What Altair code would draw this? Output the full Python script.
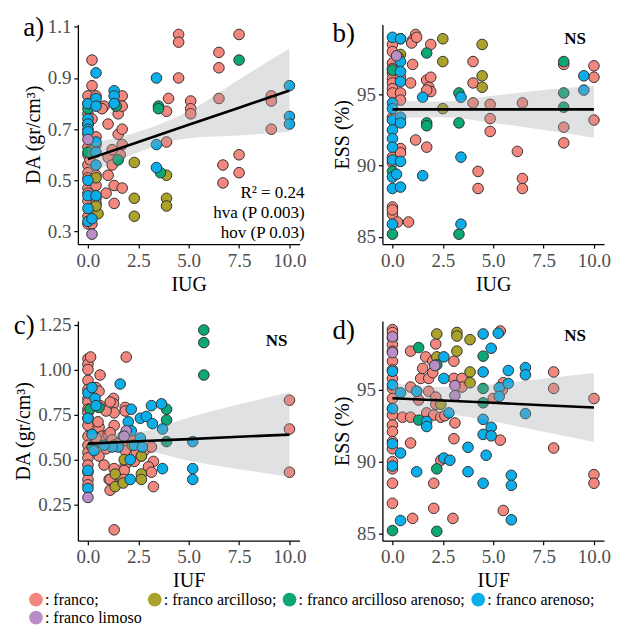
import altair as alt
import pandas as pd

FONT = "Liberation Serif"
SOILS = ["franco", "franco arcilloso", "franco arcilloso arenoso", "franco arenoso", "franco limoso"]
COLORS = ["#F3877D", "#ABA22B", "#0DA677", "#0BAEE8", "#B98DC6"]

# ---------- panel a: IUG vs DA ----------
a_franco = [(0,0.83),(0,0.80),(0,0.76),(0,0.72),(0,0.68),(0,0.63),(0,0.60),(0,0.56),(0,0.53),(0,0.51),
            (0,0.47),(0,0.45),(0,0.42),(0,0.36),(0,0.33),(0.2,0.97),(0.2,0.87),(0.4,0.83),(0.2,0.74),
            (0.4,0.67),(0.4,0.64),(0.4,0.52),(0.4,0.48),(0.4,0.43),(0.4,0.41),(0.2,0.33),(0.2,0.62),
            (0.1,0.58),(0.8,0.79),(0.7,0.78),(0.9,0.45),(1.0,0.72),(1.0,0.59),(1.0,0.52),(1.2,0.56),
            (1.3,0.48),(1.3,0.41),(1.5,0.76),(1.5,0.68),(1.7,0.83),(1.7,0.79),(1.7,0.70),(1.7,0.64),
            (1.6,0.60),(1.7,0.47),(1.2,0.62),(4.5,1.07),(4.5,1.04),(4.5,0.90),(4.0,0.82),(3.9,0.77),
            (3.9,0.65),(5.1,0.81),(5.1,0.78),(5.1,0.76),(6.5,1.00),(6.5,0.94),(6.5,0.82),(6.7,0.56),
            (6.7,0.49),(7.5,1.07),(7.5,0.60),(7.5,0.53),(9.1,0.83),(9.1,0.81),(9.1,0.70)]
a_arcilloso = [(0.4,0.51),(0.5,0.37),(0.4,0.40),(2.3,0.57),(2.3,0.43),(2.3,0.36),(3.9,0.52),
               (3.9,0.43),(3.9,0.40),(0.3,0.62)]
a_arc_arenoso = [(0,0.78),(0,0.72),(0,0.61),(1.4,0.79),(1.5,0.58),(3.5,0.79),(3.5,0.78),(3.6,0.53),(7.5,0.97)]
a_arenoso = [(0,0.80),(0,0.74),(0,0.72),(0,0.70),(0,0.69),(0,0.50),(0,0.44),(0,0.39),(0,0.34),
             (0.4,0.92),(0.4,0.82),(0.4,0.79),(0.4,0.65),(0.4,0.61),(0.4,0.56),(0.4,0.44),(0.2,0.35),
             (1.3,0.85),(1.3,0.83),(1.3,0.80),(3.4,0.90),(3.4,0.64),(3.4,0.55),(10,0.87),(10,0.75),(10,0.72)]
a_limoso = [(0.2,0.29),(0,0.66)]

# ---------- panel b: IUG vs ESS ----------
b_franco = [(0,98.5),(0,98.0),(0,97.2),(0,96.8),(0,96.5),(0,96.1),(0,95.8),(0,95.4),(0,95.1),(0,93.4),
            (0,90.6),(0,90.2),(0,87.1),(0,86.6),(0,86.9),(0.25,86.05),(0.4,96.2),(0.4,95.1),(0.4,94.6),
            (0.4,91.2),(0.4,90.9),(1.0,97.1),(0.9,95.8),(1.15,99.2),(1.0,98.8),(0.95,98.6),(1.2,99.0),
            (1.9,98.5),(1.15,91.8),(0.8,86.05),(1.7,96.0),(1.9,96.2),(1.8,95.5),(1.9,95.2),(1.7,95.3),
            (1.7,91.3),(4.0,97.3),(4.0,95.8),(4.0,94.4),(4.25,89.6),(4.25,88.4),(4.85,94.3),(4.85,93.3),
            (4.85,92.4),(6.2,91.0),(6.45,94.4),(6.45,89.1),(6.45,88.4),(8.5,97.1),(8.5,92.7),(8.5,91.6),
            (10,97.0),(10,96.2),(10,93.2)]
b_arcilloso = [(0.4,98.9),(0.4,97.8),(0.3,97.6),(2.5,98.9),(2.5,97.3),(2.5,94.0),(4.45,98.5),(4.45,96.3),(4.45,95.5)]
b_arc_arenoso = [(0,96.7),(0,89.6),(0,85.2),(1.7,97.9),(1.7,93.0),(1.7,92.8),(3.3,95.1),(3.3,93.0),
                 (3.3,85.2),(8.5,97.3),(8.5,95.1),(8.5,94.1)]
b_arenoso = [(0,99.0),(0,94.4),(0,94.0),(0,93.2),(0,92.5),(0,91.9),(0,91.3),(0,90.4),(0,89.2),(0,88.4),
             (0,85.9),(0.4,98.9),(0.4,97.3),(0.4,96.6),(0.4,95.9),(0.4,93.4),(0.4,93.0),(0.4,90.3),
             (0.4,88.5),(0.2,89.4),(1.5,89.3),(1.5,94.8),(3.4,94.8),(3.4,90.6),(3.4,85.9),(9.5,96.3),(9.5,95.3)]
b_limoso = [(0.2,97.7)]

# ---------- panel c: IUF vs DA ----------
c_franco = [(0,1.06),(0,1.03),(0,1.00),(0,0.94),(0,0.89),(0,0.84),(0,0.82),(0,0.78),(0,0.76),(0,0.73),
            (0,0.69),(0,0.63),(0,0.58),(0,0.54),(0,0.51),(0,0.47),(0,0.43),(0,0.39),(0,0.36),(0.13,1.07),
            (0.4,0.90),(0.6,0.97),(0.55,0.88),(0.6,0.80),(0.55,0.68),(0.55,0.52),(0.8,0.47),(0.7,0.63),
            (0.3,0.58),(0.4,0.62),(0.9,0.56),(1.0,0.64),(1.05,0.39),(1.1,0.33),(1.27,0.84),(1.27,0.81),
            (1.3,0.76),(1.3,0.69),(1.1,0.65),(1.2,0.61),(1.35,0.36),(1.1,0.39),(1.3,0.45),(1.3,0.11),
            (1.9,1.07),(1.85,0.79),(1.85,0.77),(1.85,0.58),(1.85,0.55),(1.85,0.47),(1.8,0.44),(1.75,0.39),
            (2.3,0.49),(2.25,0.61),(2.4,0.54),(2.65,0.52),(2.8,0.55),(3.15,0.57),(3.25,0.49),(3.0,0.46),
            (3.15,0.43),(3.25,0.35),(1.5,0.59),(0.9,0.77),(1.1,0.82),(0.5,0.71),(10,0.83),(10,0.67),(10,0.43)]
c_arcilloso = [(1.35,0.42),(1.35,0.35),(1.75,0.37),(1.8,0.50),(2.65,0.42),(2.65,0.39),(2.2,0.58),(1.3,0.58),(2.65,0.52)]
c_arc_arenoso = [(0.55,0.79),(3.9,0.78),(3.9,0.72),(3.9,0.60),(5.75,1.22),(5.75,1.15),(5.75,0.97),(0.2,0.57),(0.1,0.78)]
c_arenoso = [(0,0.87),(0,0.73),(0,0.44),(0,0.34),(0.2,0.90),(0.35,0.84),(0.4,0.80),(0.2,0.64),(0.3,0.55),
             (1.6,0.92),(1.75,0.63),(2.1,0.39),(2.1,0.50),(2.15,0.78),(2.0,0.71),(2.15,0.66),(2.3,0.58),
             (2.6,0.62),(2.6,0.73),(2.9,0.74),(3.15,0.80),(3.2,0.70),(3.65,0.81),(3.7,0.67),(3.7,0.45),
             (5.2,0.60),(5.2,0.45),(5.2,0.39),(1.5,0.57),(2.7,0.57),(1.2,0.57),(0.8,0.58)]
c_limoso = [(0,0.29),(1.9,0.66),(1.8,0.63)]

# ---------- panel d: IUF vs ESS ----------
d_franco = [(0,99.2),(0,99.0),(0,98.6),(0,98.15),(0,97.7),(0,97.0),(0,96.4),(0,95.8),(0,95.1),(0,94.4),
            (0,93.7),(0,93.25),(0,92.55),(0,92.1),(0,91.4),(0,90.9),(0,90.0),(0,89.5),(0,88.5),(0,87.1),
            (0.5,93.1),(0.9,93.1),(0.9,95.2),(0.9,97.7),(0.9,91.3),(1.0,86.05),(1.3,94.3),(1.4,95.8),
            (1.5,96.5),(1.65,97.3),(1.8,95.8),(2.0,97.0),(2.0,96.2),(1.8,94.9),(1.7,93.4),(2.05,93.25),
            (2.05,88.5),(2.05,86.75),(2.15,98.2),(2.15,94.5),(2.15,94.0),(2.4,93.1),(2.4,90.1),(3.05,97.0),
            (3.05,95.8),(3.1,92.7),(3.05,91.6),(3.0,86.05),(3.45,95.8),(3.45,95.2),(5.35,99.1),(5.5,86.6),
            (5.35,91.5),(5.5,95.5),(5.45,95.0),(5.0,94.4),(8.0,96.25),(8.0,95.1),(8.0,90.95),(10,94.4),
            (10,89.1),(10,88.5),(1.2,94.9),(2.6,93.2)]
d_arcilloso = [(2.2,98.9),(2.2,97.3),(3.2,99.0),(3.2,98.75),(3.2,97.7),(3.85,98.5),(3.85,96.25),(3.85,95.5),(2.4,94.0)]
d_arc_arenoso = [(0,85.2),(2.2,85.15),(2.2,89.5),(1.3,97.95),(1.3,92.9),(2.2,96.75),(4.5,97.35),(4.5,95.1),(4.5,94.1)]
d_arenoso = [(0,96.3),(0,95.35),(0,93.7),(0,91.25),(0,89.7),(0.4,94.8),(0.4,90.6),(0.4,85.9),(1.2,89.3),
             (1.2,94.9),(1.7,92.8),(1.7,92.45),(2.55,97.3),(2.55,95.8),(2.55,90.25),(2.85,90.1),(2.8,93.4),
             (3.75,91.0),(3.75,89.3),(4.5,98.9),(4.5,96.25),(4.5,92.95),(4.5,91.9),(4.65,90.45),(4.5,88.5),
             (4.9,97.9),(4.9,92.4),(4.9,91.8),(5.25,98.95),(5.3,95.15),(5.3,94.55),(5.75,96.35),(5.75,95.45),
             (5.9,89.05),(5.9,88.35),(5.9,85.95),(6.6,96.55),(6.6,96.05),(6.6,93.35)]
d_limoso = [(0,97.6),(3.1,95.3),(3.1,94.6),(2.1,96.7),(0,98.7)]

# ---------- fitted lines and confidence bands ----------
fit_x = [0, 2.5, 5, 7.5, 10]
a_fit = [0.583, 0.650, 0.717, 0.784, 0.851]
a_lo = [0.523, 0.610, 0.665, 0.675, 0.690]
a_hi = [0.643, 0.690, 0.770, 0.894, 1.015]
b_fit = [93.95, 93.95, 93.95, 93.95, 93.95]
b_lo = [93.33, 93.40, 93.00, 92.50, 91.95]
b_hi = [94.57, 94.50, 94.90, 95.30, 95.60]
c_fit = [0.589, 0.602, 0.614, 0.627, 0.639]
c_lo = [0.539, 0.552, 0.494, 0.447, 0.404]
c_hi = [0.639, 0.652, 0.734, 0.807, 0.874]
d_fit = [94.42, 94.26, 94.10, 93.93, 93.77]
d_lo = [93.37, 93.31, 92.80, 92.08, 91.37]
d_hi = [95.47, 95.21, 95.40, 95.78, 96.17]

ann_a_text = ["R² = 0.24", "hva (P 0.003)", "hov (P 0.03)"]
ann_a_y = [0.43, 0.352, 0.275]

W, H = 222, 220


def points_frame(groups):
    rows = []
    for soil, pts in zip(SOILS, groups):
        for x, y in pts:
            rows.append({"x": x, "y": y, "soil": soil})
    return pd.DataFrame(rows)


def panel(groups, fit, lo, hi, label, xtitle, ytitle, ydom, yticks, yfmt, notes, weight):
    pts = points_frame(groups)
    fitdf = pd.DataFrame({"x": fit_x, "y": fit, "lo": lo, "hi": hi})
    xs = alt.Scale(domain=[-0.5, 10.5], nice=False, zero=False)
    ys = alt.Scale(domain=ydom, nice=False, zero=False)
    xax = alt.Axis(values=[0, 2.5, 5, 7.5, 10], format=".1f", title=xtitle)
    yax = alt.Axis(values=yticks, format=yfmt, title=ytitle)

    pt = alt.Chart(pts).mark_circle(size=112, opacity=1, stroke="#333333", strokeWidth=1).encode(
        x=alt.X("x:Q", scale=xs, axis=xax),
        y=alt.Y("y:Q", scale=ys, axis=yax),
        fill=alt.Fill("soil:N", scale=alt.Scale(domain=SOILS, range=COLORS),
                      legend=alt.Legend(
                          title=None, orient="none", legendX=-50, legendY=568,
                          direction="horizontal", columns=4,
                          labelExpr="': ' + datum.label + (datum.label == 'franco limoso' ? '' : ';')",
                          symbolType="circle", symbolSize=190, symbolStrokeWidth=0,
                          labelFont=FONT, labelFontSize=16, labelColor="black",
                          labelOffset=1, columnPadding=5, rowPadding=2,
                          labelLimit=400)),
    )
    band = alt.Chart(fitdf).mark_area(color="#9EA3A6", opacity=0.32, interpolate="monotone").encode(
        x=alt.X("x:Q", scale=xs), y=alt.Y("lo:Q", scale=ys), y2="hi:Q")
    line = alt.Chart(fitdf).mark_line(color="black", strokeWidth=2.6).encode(
        x=alt.X("x:Q", scale=xs), y=alt.Y("y:Q", scale=ys))
    nd = pd.DataFrame(notes)
    txt = alt.Chart(nd).mark_text(font=FONT, fontSize=17, align="right", baseline="alphabetic",
                                  color="black", fontWeight=weight).encode(
        x=alt.X("x:Q", scale=xs), y=alt.Y("y:Q", scale=ys), text="t:N")
    return alt.layer(pt, band, line, txt).properties(
        width=W, height=H,
        title=alt.TitleParams(label, anchor="start", frame="bounds", fontSize=27, font=FONT,
                              fontWeight="normal", color="black", offset=-24))


note_a = {"x": [10.75] * 3, "y": ann_a_y, "t": ann_a_text}
note_b = {"x": [9.6], "y": [98.55], "t": ["NS"]}
note_c = {"x": [9.9], "y": [1.13], "t": ["NS"]}
note_d = {"x": [9.6], "y": [98.4], "t": ["NS"]}

pa = panel([a_franco, a_arcilloso, a_arc_arenoso, a_arenoso, a_limoso], a_fit, a_lo, a_hi, "a)",
           "IUG", "DA (gr/cm³)", [0.251, 1.109], [0.3, 0.5, 0.7, 0.9, 1.1], ".1f", note_a, "normal")
pb = panel([b_franco, b_arcilloso, b_arc_arenoso, b_arenoso, b_limoso], b_fit, b_lo, b_hi, "b)",
           "IUG", "ESS (%)", [84.5, 99.9], [85, 90, 95], "d", note_b, "bold")
pc = panel([c_franco, c_arcilloso, c_arc_arenoso, c_arenoso, c_limoso], c_fit, c_lo, c_hi, "c)",
           "IUF", "DA (gr/cm³)", [0.05, 1.27], [0.25, 0.5, 0.75, 1.0, 1.25], ".2f", note_c, "bold")
pd_ = panel([d_franco, d_arcilloso, d_arc_arenoso, d_arenoso, d_limoso], d_fit, d_lo, d_hi, "d)",
            "IUF", "ESS (%)", [84.5, 99.8], [85, 90, 95], "d", note_d, "bold")

chart = alt.concat(pa, pb, pc, pd_, columns=2, spacing={"column": 26, "row": 17}).resolve_scale(
    fill="shared").resolve_legend(fill="shared").configure_view(stroke=None).configure_axis(
    grid=False, domainColor="black", domainWidth=1.3, tickColor="black", tickWidth=1.2, tickSize=4,
    labelFont=FONT, labelFontSize=19, labelColor="#4D4D4D", titleFont=FONT, titleFontSize=20,
    titleFontWeight="normal", titleColor="black", labelPadding=3, titlePadding=4,
)

chart.save("out.html", embed_options={"renderer": "svg", "actions": False})
